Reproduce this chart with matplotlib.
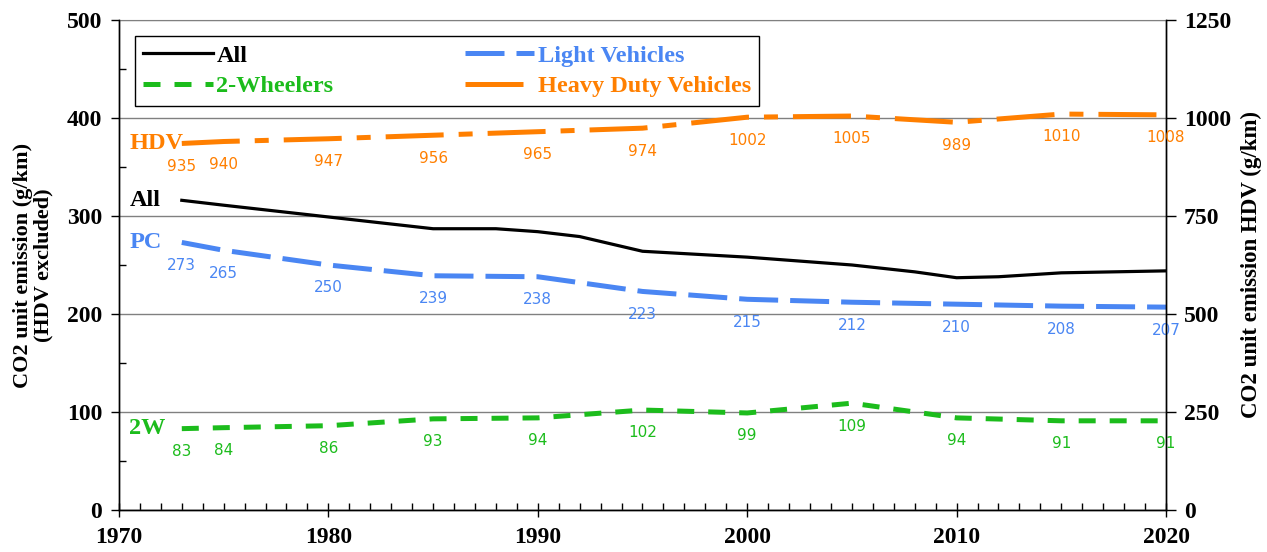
import matplotlib
matplotlib.use("Agg")
import matplotlib.pyplot as plt
from matplotlib.ticker import MultipleLocator

# data
years = [1973, 1975, 1980, 1985, 1990, 1995, 2000, 2005, 2010, 2015, 2020]
pc = [273, 265, 250, 239, 238, 223, 215, 212, 210, 208, 207]
two_w = [83, 84, 86, 93, 94, 102, 99, 109, 94, 91, 91]
hdv = [935, 940, 947, 956, 965, 974, 1002, 1005, 989, 1010, 1008]

# "All" has no value labels, estimated from the curve
all_years = [1973, 1975, 1980, 1985, 1988, 1990, 1992, 1995, 2000, 2005, 2008, 2010, 2012, 2015, 2020]
all_veh = [316, 311, 299, 287, 287, 284, 279, 264, 258, 250, 243, 237, 238, 242, 244]

BLACK = "#000000"
BLUE = "#4a86f3"
GREEN = "#1cbc1c"
ORANGE = "#ff7f00"
SERIF = "Liberation Serif"

fig = plt.figure(figsize=(12.67, 5.52), dpi=100)
ax = fig.add_axes([0.0939, 0.0761, 0.8264, 0.8877])
ax2 = ax.twinx()

ax.plot(all_years, all_veh, color=BLACK, lw=2.3, label="All")
ax.plot(years, two_w, color=GREEN, lw=3.6, dashes=(3.4, 2.8), label="2-Wheelers")
ax.plot(years, pc, color=BLUE, lw=3.6, dashes=(7.8, 2.4), label="Light Vehicles")
ax2.plot(years, hdv, color=ORANGE, lw=3.6, dashes=(11.6, 3.0, 2.8, 3.0),
         label="Heavy Duty Vehicles")

# value labels under the points
for a, vals, col in [(ax, pc, BLUE), (ax, two_w, GREEN), (ax2, hdv, ORANGE)]:
    for x, v in zip(years, vals):
        a.annotate(str(v), (x, v), xytext=(0, -16.5), textcoords="offset points",
                   ha="center", va="center", fontsize=11, color=col,
                   family="DejaVu Sans", annotation_clip=False)

# series names on the left
for a, name, v, col in [(ax2, "HDV", hdv[0], ORANGE), (ax, "All", all_veh[0], BLACK),
                        (ax, "PC", pc[0], BLUE), (ax, "2W", two_w[0], GREEN)]:
    a.text(1970.5, v, name, ha="left", va="center", color=col, fontsize=17.5,
           fontweight="bold", family=SERIF)

ax.set_xlim(1970, 2020)
ax.set_ylim(0, 500)
ax2.set_ylim(0, 1250)
ax.xaxis.set_major_locator(MultipleLocator(10))
ax.xaxis.set_minor_locator(MultipleLocator(1))
ax.yaxis.set_major_locator(MultipleLocator(100))
ax.yaxis.set_minor_locator(MultipleLocator(50))
ax2.yaxis.set_major_locator(MultipleLocator(250))

ax.yaxis.grid(True, color="#808080", lw=1.0)
ax.set_axisbelow(True)
ax.spines["top"].set_color("#808080")
ax2.spines["top"].set_visible(False)
for s in ["left", "bottom", "right"]:
    ax.spines[s].set_linewidth(1.0)
    ax2.spines[s].set_linewidth(1.0)

ax.tick_params(axis="x", which="major", direction="inout", length=10, width=1, pad=7)
ax.tick_params(axis="x", which="minor", direction="in", length=5, width=1)
ax.tick_params(axis="y", which="major", direction="out", length=6, width=1, pad=6)
ax.tick_params(axis="y", which="minor", direction="in", length=5, width=1)
ax2.tick_params(axis="y", which="major", direction="out", length=7, width=1, pad=6)

for lab in ax.get_xticklabels() + ax.get_yticklabels() + ax2.get_yticklabels():
    lab.set_family(SERIF)
    lab.set_fontweight("bold")
    lab.set_fontsize(17)

ax.set_ylabel("CO2 unit emission (g/km)\n(HDV excluded)", family=SERIF,
              fontweight="bold", fontsize=16, linespacing=1.0, labelpad=10)
ax2.set_ylabel("CO2 unit emission HDV (g/km)", family=SERIF, fontweight="bold",
               fontsize=16.5, labelpad=7)

h1, l1 = ax.get_legend_handles_labels()
h2, l2 = ax2.get_legend_handles_labels()
leg = ax2.legend(h1 + h2, l1 + l2, ncol=2, loc="upper left",
                 bbox_to_anchor=(0.0153, 0.967), borderaxespad=0,
                 prop={"family": SERIF, "weight": "bold", "size": 17.5},
                 handlelength=2.85, handletextpad=0.15, columnspacing=5.4,
                 labelspacing=0.35, borderpad=0.35, fancybox=False,
                 framealpha=1, edgecolor="black")
leg.get_frame().set_linewidth(1.0)
for txt, col in zip(leg.get_texts(), [BLACK, GREEN, BLUE, ORANGE]):
    txt.set_color(col)

fig.savefig("out.png", dpi=100)
